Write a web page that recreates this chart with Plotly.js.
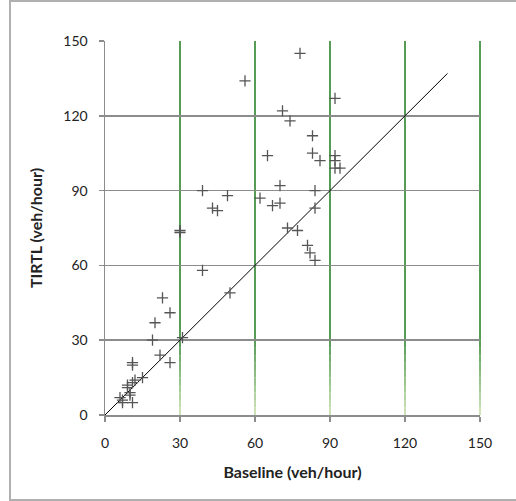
<!DOCTYPE html>
<html>
<head>
<meta charset="utf-8">
<script src="https://cdn.plot.ly/plotly-3.0.1.min.js"></script>
<style>
html,body{margin:0;padding:0;background:#fff;}
#chart{width:516px;height:501px;}
</style>
</head>
<body>
<div id="chart"></div>
<script>
// Data
var baseline = [78,56,92,71,74,83,83,65,92,86,92,92,94,39,70,84,49,62,43,45,67,70,84,30,30,73,77,81,82,84,39,50,23,26,20,19,31,22,26,11,11,15,12,11,9,9,10,10,6,7,7,11];
var tirtl    = [145,134,127,122,118,112,105,104,104,102,102,99,99,90,92,90,88,87,83,82,84,85,83,74,73.2,75,74,68,65,62,58,49,47,41,37,30,31,24,21,21,20,15,14,13,12,11,9,8,7,6,5,5];
var refLineX = [0, 137];
var refLineY = [0, 137];
var tickVals = [0, 30, 60, 90, 120, 150];
var xTitle = "Baseline (veh/hour)";
var yTitle = "TIRTL (veh/hour)";

var FONT = "Lato, 'Open Sans', sans-serif";

var traces = [
  {
    x: refLineX, y: refLineY, type: "scatter", mode: "lines",
    line: {color: "#000000", width: 1}, hoverinfo: "skip", showlegend: false
  },
  {
    x: baseline, y: tirtl, type: "scatter", mode: "markers",
    marker: {symbol: "cross-thin", size: 8, color: "#555555", line: {color: "#555555", width: 1.3}},
    showlegend: false
  }
];

// Green vertical gridlines (fading to light green at the bottom), in paper units from tick values
var shapes = [];
function mix(a, b, t) {
  var r = Math.round(a[0] + (b[0]-a[0])*t);
  var g = Math.round(a[1] + (b[1]-a[1])*t);
  var bl = Math.round(a[2] + (b[2]-a[2])*t);
  return "rgb(" + r + "," + g + "," + bl + ")";
}
var dark = [30, 122, 30], light = [195, 222, 165];
var maxV = tickVals[tickVals.length - 1];
tickVals.forEach(function (v) {
  if (v === 0) return;
  var px = v / maxV;
  shapes.push({type: "line", xref: "paper", yref: "paper", x0: px, x1: px, y0: 30 / maxV, y1: 1,
    line: {color: "rgb(30,122,30)", width: 1.5}, layer: "below"});
  var n = 10;
  for (var i = 0; i < n; i++) {
    var y1 = 30 - i * 3, y0 = 30 - (i + 1) * 3;
    shapes.push({type: "line", xref: "paper", yref: "paper", x0: px, x1: px, y0: y0 / maxV, y1: y1 / maxV,
      line: {color: mix(dark, light, (i + 0.5) / n), width: 1.5}, layer: "below"});
  }
});
// outer chart border
shapes.push({type: "rect", xref: "paper", yref: "paper",
  x0: (10 - 105) / 375, x1: (560 - 105) / 375, y0: (415 - 500) / 374, y1: (415 - 1) / 374,
  line: {color: "#b0b0b0", width: 2}, fillcolor: "rgba(0,0,0,0)", layer: "below"});

var layout = {
  width: 516, height: 501,
  margin: {l: 105, r: 36, t: 41, b: 86, pad: 0},
  paper_bgcolor: "#ffffff", plot_bgcolor: "#ffffff",
  font: {family: FONT, size: 14, color: "#222222"},
  xaxis: {
    range: [0, 150], tickvals: tickVals, ticktext: tickVals.map(String),
    showgrid: false, zeroline: false,
    showline: true, linecolor: "#8c8c8c", linewidth: 1.5,
    ticks: "outside", ticklen: 5, tickcolor: "#8c8c8c", tickwidth: 1.5,
    ticklabelstandoff: 10,
    tickfont: {family: FONT, size: 14, color: "#222222"},
    title: {text: xTitle, font: {family: FONT, size: 16, color: "#222222", weight: "bold"}, standoff: 16}
  },
  yaxis: {
    range: [0, 150], tickvals: tickVals, ticktext: tickVals.map(String),
    showgrid: true, gridcolor: "#8c8c8c", gridwidth: 1.5, zeroline: false,
    showline: true, linecolor: "#8c8c8c", linewidth: 1.5,
    ticks: "outside", ticklen: 5, tickcolor: "#8c8c8c", tickwidth: 1.5,
    ticklabelstandoff: 8,
    tickfont: {family: FONT, size: 14, color: "#222222"},
    title: {text: yTitle, font: {family: FONT, size: 16, color: "#222222", weight: "bold"}, standoff: 16}
  },
  shapes: shapes
};

Plotly.newPlot("chart", traces, layout, {displayModeBar: false, staticPlot: true});
</script>
</body>
</html>
